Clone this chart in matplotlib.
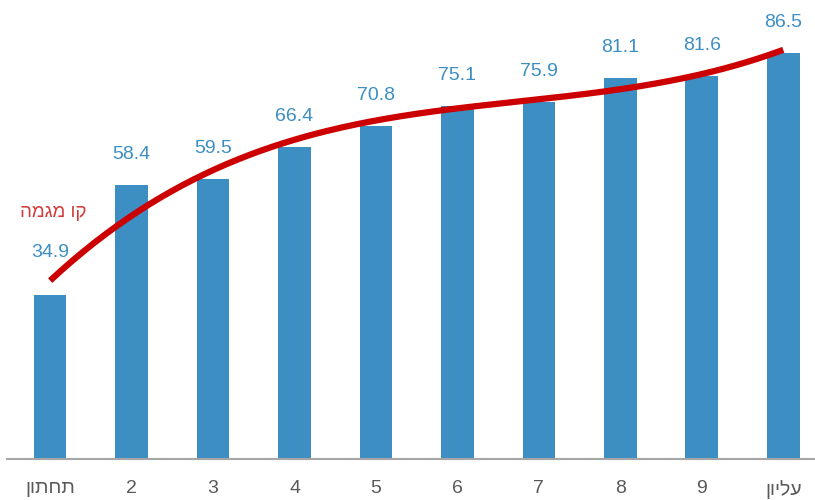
import matplotlib.pyplot as plt
import numpy as np

categories = ["תחתון", "2", "3", "4", "5", "6", "7", "8", "9", "עליון"]
values = [34.9, 58.4, 59.5, 66.4, 70.8, 75.1, 75.9, 81.1, 81.6, 86.5]
trend_label = "קו מגמה"


def rtl(s):
    # matplotlib has no bidi support, flip Hebrew words by hand
    return s[::-1] if any("\u0590" <= ch <= "\u05ff" for ch in s) else s


bar_color = "#3d8ec3"
fig = plt.figure(figsize=(8.15, 5), dpi=100)
ax = fig.add_axes([7 / 815, 41 / 500, 808 / 815, 459 / 500])

x = np.arange(len(values))
ax.bar(x, values, width=0.40, color=bar_color, zorder=2)

# polynomial (order 3) trend line like the spreadsheet one
coef = np.polyfit(x + 1, values, 3)
xs = np.linspace(0, len(values) - 1, 200)
ax.plot(xs, np.polyval(coef, xs + 1), color="#cc0000", linewidth=4.5,
        solid_capstyle="butt", zorder=3)

for i, v in enumerate(values):
    off = 9 if i == 0 else 6.5
    ax.text(i, v + off, f"{v:.1f}", ha="center", va="center",
            fontsize=14, color=bar_color, family=["Liberation Sans", "DejaVu Sans"])

ax.text(-0.37, 52.5, rtl(trend_label), ha="left", va="center", fontsize=13.5,
        color="#d23b3b", family=["Liberation Sans", "DejaVu Sans"])

ax.set_xlim(-0.53, 9.39)
ax.set_ylim(0, 97.7)
ax.set_xticks(x)
ax.set_xticklabels([rtl(c) for c in categories], fontsize=14, color="#595959",
                   family=["Liberation Sans Narrow", "Liberation Sans", "DejaVu Sans"])
ax.tick_params(axis="x", length=0, pad=15)
ax.set_yticks([])
for side in ["top", "right", "left"]:
    ax.spines[side].set_visible(False)
ax.spines["bottom"].set_color("#a6a6a6")
ax.spines["bottom"].set_linewidth(1.5)

fig.savefig("out.png", dpi=100)
